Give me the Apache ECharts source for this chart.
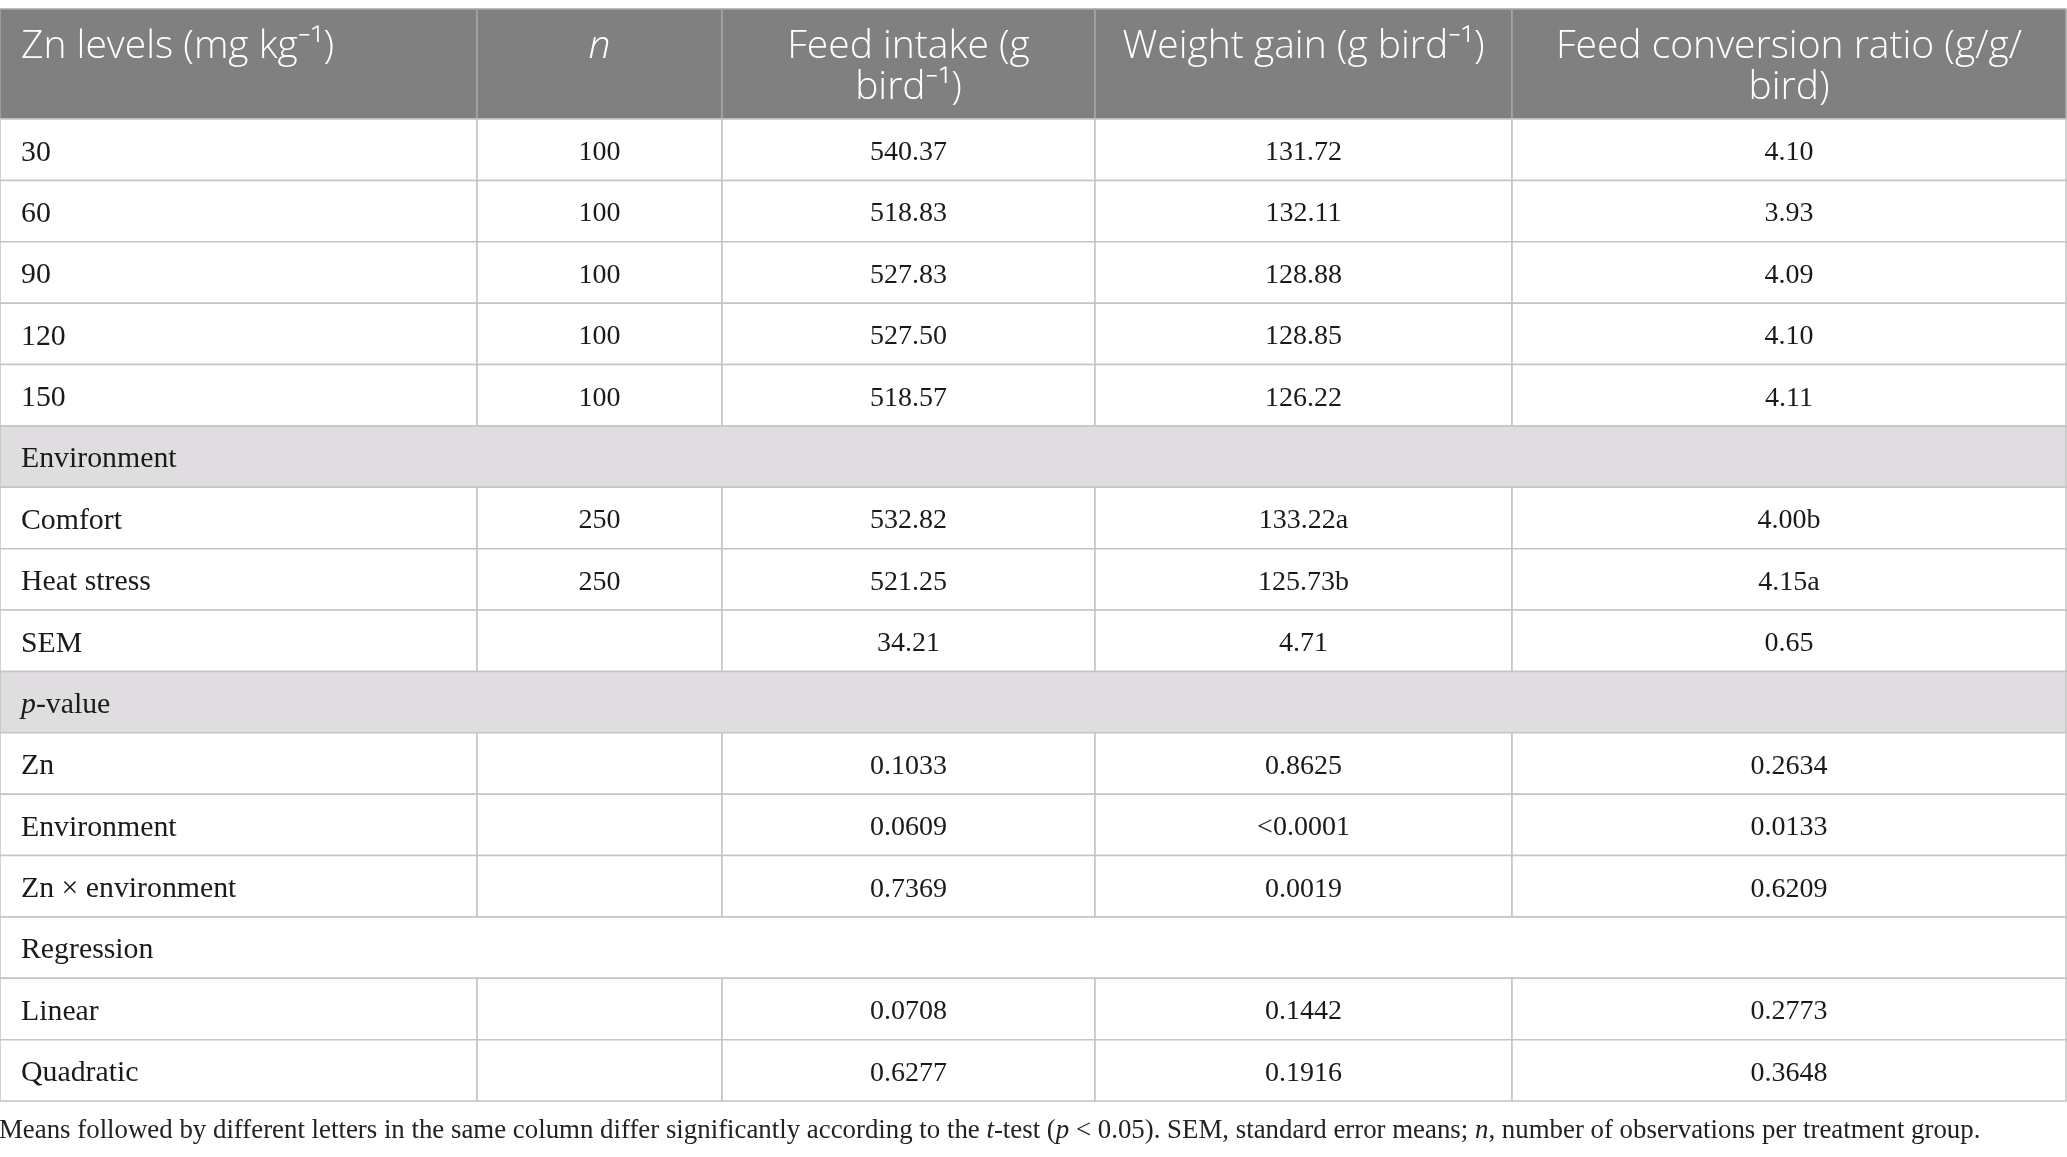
<!DOCTYPE html>
<html>
<head>
<meta charset="utf-8">
<script src="https://cdn.jsdelivr.net/npm/echarts@6/dist/echarts.min.js"></script>
<style>
html,body{margin:0;padding:0;background:#fff;}
#chart{width:2067px;height:1157px;}
</style>
</head>
<body>
<div id="chart"></div>
<script>
// ---- data ----
const headers = ['Zn levels (mg kg⁻¹)', '{i|n}', 'Feed intake (g\nbird⁻¹)', 'Weight gain (g bird⁻¹)', 'Feed conversion ratio (g/g/\nbird)'];
const rowLabels = ['30', '60', '90', '120', '150', 'Environment', 'Comfort', 'Heat stress', 'SEM', '{i|p}-value', 'Zn', 'Environment', 'Zn × environment', 'Regression', 'Linear', 'Quadratic'];
const nValues = ['100', '100', '100', '100', '100', '', '250', '250', '', '', '', '', '', '', '', ''];
const feedIntake = ['540.37', '518.83', '527.83', '527.50', '518.57', '', '532.82', '521.25', '34.21', '', '0.1033', '0.0609', '0.7369', '', '0.0708', '0.6277'];
const weightGain = ['131.72', '132.11', '128.88', '128.85', '126.22', '', '133.22a', '125.73b', '4.71', '', '0.8625', '<0.0001', '0.0019', '', '0.1442', '0.1916'];
const feedConversion = ['4.10', '3.93', '4.09', '4.10', '4.11', '', '4.00b', '4.15a', '0.65', '', '0.2634', '0.0133', '0.6209', '', '0.2773', '0.3648'];
const sectionRowIndex = [5, 9, 13];
const shadedRowIndex = [5, 9];
const footnote = '{r|Means followed by different letters in the same column differ significantly according to the }{i|t}{r|-test (}{i|p}{r| < 0.05). SEM, standard error means; }{i|n}{r|, number of observations per treatment group.}';

// ---- layout ----
const colEdges = [0, 477, 722, 1095, 1512, 2066];
const serif = '"Liberation Serif", "DejaVu Serif", serif';
const sans = '"Open Sans", "Noto Sans", "DejaVu Sans", sans-serif';
const labelFont = 29.8;
const numFont = 28;
const headFont = 39;
const footFont = 26.85;
const lineColor = '#c4c4c4';

// build cells
const headerCells = headers.map((t, c) => ({ c0: c, c1: c + 1, r: 0, text: t, align: c === 0 ? 'left' : 'center' }));
const bodyCells = [];
rowLabels.forEach((lab, r) => {
  if (sectionRowIndex.indexOf(r) >= 0) {
    bodyCells.push({ c0: 0, c1: 5, r, text: lab, align: 'left', fill: shadedRowIndex.indexOf(r) >= 0 ? '#dfdddf' : '#ffffff' });
  } else {
    const vals = [lab, nValues[r], feedIntake[r], weightGain[r], feedConversion[r]];
    vals.forEach((v, c) => bodyCells.push({ c0: c, c1: c + 1, r, text: v, align: c === 0 ? 'left' : 'center', fill: '#ffffff' }));
  }
});

function makeRender(cells, isHeader) {
  return function (params, api) {
    const cell = cells[params.dataIndex];
    const p0 = api.coord([colEdges[cell.c0], cell.r]);
    const p1 = api.coord([colEdges[cell.c1], cell.r]);
    const h = api.size([0, 1])[1];
    const x = p0[0], w = p1[0] - p0[0], y = p0[1] - h / 2;
    const tx = cell.align === 'left' ? x + 21 : x + w / 2;
    const fs = cell.c0 === 0 ? labelFont : numFont;
    const children = [{
      type: 'rect',
      shape: { x: x, y: y, width: w, height: h },
      style: { fill: isHeader ? '#808080' : cell.fill, stroke: isHeader ? '#a6a6a6' : lineColor, lineWidth: 1.5 }
    }];
    if (cell.text) {
      children.push({
        type: 'text',
        z2: 10,
        style: isHeader ? {
          text: cell.text, x: tx, y: y + 17, align: cell.align, verticalAlign: 'top',
          fontFamily: sans, fontSize: headFont, fontWeight: 300, lineHeight: 41, fill: '#ffffff',
          rich: { i: { fontStyle: 'italic', fontFamily: sans, fontWeight: 300, fontSize: headFont, fill: '#ffffff', lineHeight: 41 } }
        } : {
          text: cell.text, x: tx, y: p0[1] + 3, align: cell.align, verticalAlign: 'middle',
          fontFamily: serif, fontSize: fs, fill: '#1a1a1a',
          rich: { i: { fontStyle: 'italic', fontFamily: serif, fontSize: fs, fill: '#1a1a1a' } }
        }
      });
    }
    return { type: 'group', children: children };
  };
}

const chart = echarts.init(document.getElementById('chart'), null, { renderer: 'canvas' });
chart.setOption({
  backgroundColor: '#ffffff',
  animation: false,
  title: {
    text: footnote, left: -1, top: 1117, padding: 0,
    textStyle: {
      fontFamily: serif, fontSize: footFont, fontWeight: 'normal', color: '#222',
      rich: {
        r: { fontFamily: serif, fontSize: footFont, color: '#222' },
        i: { fontFamily: serif, fontSize: footFont, color: '#222', fontStyle: 'italic' }
      }
    }
  },
  grid: [
    { left: 0, top: 9, width: 2066, height: 110 },
    { left: 0, top: 119, width: 2066, height: 982 }
  ],
  xAxis: [
    { type: 'value', gridIndex: 0, min: 0, max: 2066, show: false },
    { type: 'value', gridIndex: 1, min: 0, max: 2066, show: false }
  ],
  yAxis: [
    { type: 'category', gridIndex: 0, data: ['header'], inverse: true, show: false },
    { type: 'category', gridIndex: 1, data: rowLabels.map((l, i) => String(i)), inverse: true, show: false }
  ],
  series: [
    {
      type: 'custom', xAxisIndex: 0, yAxisIndex: 0, clip: false,
      data: headerCells.map(c => [(colEdges[c.c0] + colEdges[c.c1]) / 2, c.r]),
      encode: { x: 0, y: 1 },
      renderItem: makeRender(headerCells, true)
    },
    {
      type: 'custom', xAxisIndex: 1, yAxisIndex: 1, clip: false,
      data: bodyCells.map(c => [(colEdges[c.c0] + colEdges[c.c1]) / 2, c.r]),
      encode: { x: 0, y: 1 },
      renderItem: makeRender(bodyCells, false)
    }
  ]
});
</script>
</body>
</html>
